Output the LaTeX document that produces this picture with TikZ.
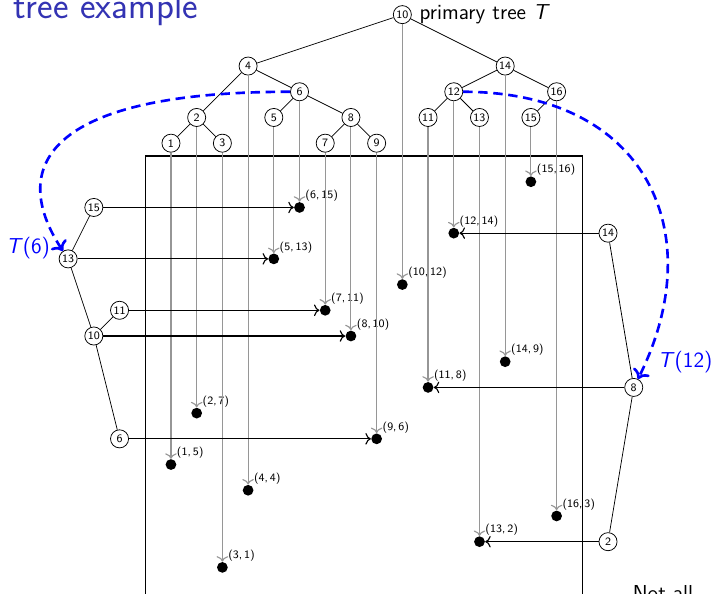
\documentclass[tikz,border=0pt]{standalone}
\usepackage{tikz}
\usetikzlibrary{arrows.meta,positioning}
\definecolor{titleblue}{RGB}{51,51,179}
\definecolor{linkgray}{RGB}{150,150,150}

\begin{document}
\begin{tikzpicture}[x=0.48cm, y=0.48cm,
    every node/.style={font=\sffamily},
    tnode/.style={draw, circle, fill=white, inner sep=0pt, minimum size=9.6pt, font=\sffamily\fontsize{6}{7}\selectfont},
    keypt/.style={circle, fill=black, inner sep=0pt, minimum size=5.7pt},
    ptlabel/.style={font=\sffamily\fontsize{6}{7}\selectfont, inner sep=0.8pt},
    bigtext/.style={font=\sffamily\fontsize{11.5}{13}\selectfont},
    graylink/.style={-{To}, linkgray, semithick},
    hlink/.style={-{To}, semithick},
    dashlink/.style={-{To}, blue, line width=1.4pt, dash pattern=on 5pt off 3pt}]
        \useasboundingbox (-5.65,0) rectangle (22.2,23.07);
        \clip (-5.65,0) rectangle (22.2,23.07);

        \node[anchor=base west, inner sep=0pt, text=titleblue, font=\sffamily\fontsize{19.7}{24}\selectfont] (title) at (-5.15,22.35) {tree example};

        % frame of the point set
        \draw[semithick] (0,-1) -- (0,17) -- (17,17) -- (17,-1);

        % primary tree
        \node[tnode] (p10) at (10,22.5) {10};
        \node[tnode] (p4) at (4,20.5) {4};
        \node[tnode] (p14) at (14,20.5) {14};
        \node[tnode] (p6) at (6,19.5) {6};
        \node[tnode] (p12) at (12,19.5) {12};
        \node[tnode] (p16) at (16,19.5) {16};
        \node[tnode] (p2) at (2,18.5) {2};
        \node[tnode] (p5) at (5,18.5) {5};
        \node[tnode] (p8) at (8,18.5) {8};
        \node[tnode] (p11) at (11,18.5) {11};
        \node[tnode] (p13) at (13,18.5) {13};
        \node[tnode] (p15) at (15,18.5) {15};
        \node[tnode] (p1) at (1,17.5) {1};
        \node[tnode] (p3) at (3,17.5) {3};
        \node[tnode] (p7) at (7,17.5) {7};
        \node[tnode] (p9) at (9,17.5) {9};
        \foreach \a/\b in {10/4,10/14,4/2,4/6,2/1,2/3,6/5,6/8,8/7,8/9,14/12,14/16,12/11,12/13,16/15}
          \draw (p\a) -- (p\b);
        \node[bigtext, inner sep=1pt, right=3pt of p10] (ptree) {primary tree \textit{T}};

        % points
        \foreach \k/\v in {1/5,2/7,3/1,4/4,5/13,6/15,7/11,8/10,9/6,10/12,11/8,12/14,13/2,14/9,15/16,16/3} {
          \node[keypt, label={[ptlabel]above right:{(\k,\,\v)}}] (d\k) at (\k,\v) {};
          \draw[graylink] (p\k) -- (d\k);
        }

        % secondary tree T(6)
        \node[tnode] (a13) at (-3,13) {13};
        \node[tnode] (a15) at (-2,15) {15};
        \node[tnode] (a10) at (-2,10) {10};
        \node[tnode] (a11) at (-1,11) {11};
        \node[tnode] (a6) at (-1,6) {6};
        \draw (a13) -- (a15);
        \draw (a13) -- (a10);
        \draw (a10) -- (a11);
        \draw (a10) -- (a6);
        \draw[hlink] (a15) -- (d6);
        \draw[hlink] (a13) -- (d5);
        \draw[hlink] (a11) -- (d7);
        \draw[hlink] (a10) -- (d8);
        \draw[hlink] (a6) -- (d9);

        % secondary tree T(12)
        \node[tnode] (b14) at (18,14) {14};
        \node[tnode] (b8) at (19,8) {8};
        \node[tnode] (b2) at (18,2) {2};
        \draw (b14) -- (b8);
        \draw (b8) -- (b2);
        \draw[hlink] (b14) -- (d12);
        \draw[hlink] (b8) -- (d11);
        \draw[hlink] (b2) -- (d13);

        \draw[dashlink] (p6) .. controls (-4,19.5) and (-5.3,16.5) .. (a13);
        \draw[dashlink] (p12) .. controls (19.5,19.5) and (22,14) .. (b8);
        \node[bigtext, text=blue] (t6) at (-4.56,13.42) {\textit{T}(6)};
        \node[bigtext, text=blue] (t12) at (21.0,8.99) {\textit{T}(12)};

        \node[bigtext, anchor=base west, inner sep=0pt] (notall) at (18.95,-0.27) {Not all};
      \end{tikzpicture}
\end{document}
